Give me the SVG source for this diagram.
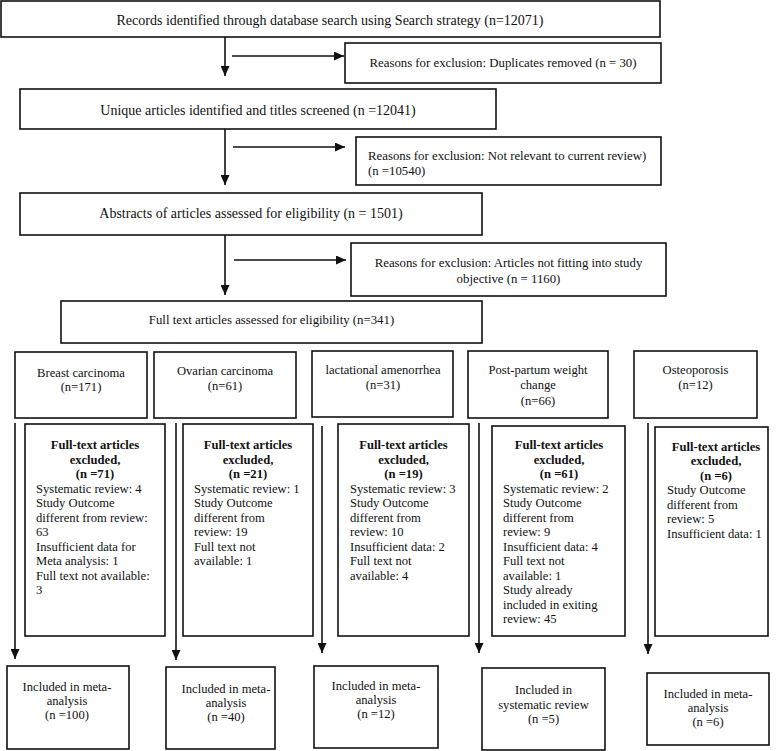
<svg xmlns="http://www.w3.org/2000/svg" width="778" height="751" viewBox="0 0 778 751">
<style>
.box{fill:#fff;stroke:#111;stroke-width:1.6}
.ln{fill:none;stroke:#111;stroke-width:1.6}
text{font-family:"Liberation Serif","Times New Roman",serif;fill:#111}
.m{text-anchor:middle}
.f14{font-size:14px}
.f13{font-size:12.8px}
.f12{font-size:12.6px}
.b{font-weight:bold}
</style>
<defs>
<marker id="ah" markerUnits="userSpaceOnUse" markerWidth="10" markerHeight="9" refX="10" refY="4.5" orient="auto">
<path d="M0,0 L10,4.5 L0,9 z" fill="#111"/>
</marker>
</defs>
<rect width="778" height="751" fill="#fff"/>

<g id="connectors">
<line class="ln" x1="225" y1="37" x2="225" y2="76" marker-end="url(#ah)"/>
<line class="ln" x1="232" y1="56" x2="344" y2="56" marker-end="url(#ah)"/>
<line class="ln" x1="225" y1="129" x2="225" y2="185" marker-end="url(#ah)"/>
<line class="ln" x1="233" y1="147" x2="345" y2="147" marker-end="url(#ah)"/>
<line class="ln" x1="225" y1="235" x2="225" y2="295" marker-end="url(#ah)"/>
<line class="ln" x1="234" y1="260" x2="346" y2="260" marker-end="url(#ah)"/>
<line class="ln" x1="15" y1="423" x2="15" y2="659" marker-end="url(#ah)"/>
<line class="ln" x1="176" y1="423" x2="176" y2="660" marker-end="url(#ah)"/>
<line class="ln" x1="322" y1="426" x2="322" y2="653" marker-end="url(#ah)"/>
<line class="ln" x1="479" y1="423" x2="479" y2="653" marker-end="url(#ah)"/>
<line class="ln" x1="648" y1="423" x2="648" y2="654" marker-end="url(#ah)"/>
</g>

<g id="records">
<rect class="box" x="1" y="1" width="659" height="36"/>
<text class="m f14" x="330" y="25">Records identified through database search using Search strategy (n=12071)</text>
</g>
<g id="duplicates">
<rect class="box" x="345" y="43" width="316" height="40"/>
<text class="m f13" x="503" y="67">Reasons for exclusion: Duplicates removed (n = 30)</text>
</g>
<g id="unique">
<rect class="box" x="20" y="89" width="476" height="40"/>
<text class="m f14" x="258" y="115">Unique articles identified and titles screened (n =12041)</text>
</g>
<g id="notrelevant">
<rect class="box" x="356" y="137" width="305" height="48"/>
<text class="f13" x="368" y="160">Reasons for exclusion: Not relevant to current review)</text>
<text class="f13" x="368" y="175">(n =10540)</text>
</g>
<g id="abstracts">
<rect class="box" x="20" y="193" width="462" height="42"/>
<text class="m f14" x="251" y="218">Abstracts of articles assessed for eligibility (n = 1501)</text>
</g>
<g id="notfitting">
<rect class="box" x="351" y="243" width="315" height="53"/>
<text class="m f13" x="508.5" y="267">Reasons for exclusion: Articles not fitting into study</text>
<text class="m f13" x="508.5" y="283">objective (n = 1160)</text>
</g>
<g id="fulltext">
<rect class="box" x="61" y="301" width="421" height="42"/>
<text class="m f13" x="271.5" y="324">Full text articles assessed for eligibility (n=341)</text>
</g>

<g id="breast">
<rect class="box" x="15" y="352" width="132" height="66"/>
<text class="m f12" x="81" y="376.5">Breast carcinoma</text>
<text class="m f12" x="81" y="391">(n=171)</text>
</g>
<g id="ovarian">
<rect class="box" x="154" y="352" width="142" height="66"/>
<text class="m f12" x="225" y="375">Ovarian carcinoma</text>
<text class="m f12" x="225" y="390">(n=61)</text>
</g>
<g id="lactational">
<rect class="box" x="312" y="351" width="141" height="66"/>
<text class="m f12" x="383" y="373.5">lactational amenorrhea</text>
<text class="m f12" x="383" y="389">(n=31)</text>
</g>
<g id="postpartum">
<rect class="box" x="468" y="351" width="140" height="67"/>
<text class="m f12" x="538" y="373.5">Post-partum weight</text>
<text class="m f12" x="538" y="389">change</text>
<text class="m f12" x="538" y="404.5">(n=66)</text>
</g>
<g id="osteoporosis">
<rect class="box" x="634" y="351" width="123" height="67"/>
<text class="m f12" x="695.5" y="373.5">Osteoporosis</text>
<text class="m f12" x="695.5" y="388.5">(n=12)</text>
</g>

<g id="excl-breast">
<rect class="box" x="25" y="424" width="140" height="212"/>
<text class="m f12 b" x="95" y="449">Full-text articles</text>
<text class="m f12 b" x="95" y="463.5">excluded,</text>
<text class="m f12 b" x="95" y="478">(n =71)</text>
<text class="f12" x="36" y="492.5">Systematic review: 4</text>
<text class="f12" x="36" y="507">Study Outcome</text>
<text class="f12" x="36" y="521.5">different from review:</text>
<text class="f12" x="36" y="536">63</text>
<text class="f12" x="36" y="550.5">Insufficient data for</text>
<text class="f12" x="36" y="565">Meta analysis: 1</text>
<text class="f12" x="36" y="579.5">Full text not available:</text>
<text class="f12" x="36" y="594">3</text>
</g>
<g id="excl-ovarian">
<rect class="box" x="183" y="424" width="130" height="212"/>
<text class="m f12 b" x="248" y="449">Full-text articles</text>
<text class="m f12 b" x="248" y="463.5">excluded,</text>
<text class="m f12 b" x="248" y="478">(n =21)</text>
<text class="f12" x="194" y="492.5">Systematic review: 1</text>
<text class="f12" x="194" y="507">Study Outcome</text>
<text class="f12" x="194" y="521.5">different from</text>
<text class="f12" x="194" y="536">review: 19</text>
<text class="f12" x="194" y="550.5">Full text not</text>
<text class="f12" x="194" y="565">available: 1</text>
</g>
<g id="excl-lactational">
<rect class="box" x="338" y="424" width="131" height="212"/>
<text class="m f12 b" x="403.5" y="449">Full-text articles</text>
<text class="m f12 b" x="403.5" y="463.5">excluded,</text>
<text class="m f12 b" x="403.5" y="478">(n =19)</text>
<text class="f12" x="350" y="492.5">Systematic review: 3</text>
<text class="f12" x="350" y="507">Study Outcome</text>
<text class="f12" x="350" y="521.5">different from</text>
<text class="f12" x="350" y="536">review: 10</text>
<text class="f12" x="350" y="550.5">Insufficient data: 2</text>
<text class="f12" x="350" y="565">Full text not</text>
<text class="f12" x="350" y="579.5">available: 4</text>
</g>
<g id="excl-postpartum">
<rect class="box" x="492" y="426" width="133" height="210"/>
<text class="m f12 b" x="559" y="449">Full-text articles</text>
<text class="m f12 b" x="559" y="463.5">excluded,</text>
<text class="m f12 b" x="559" y="478">(n =61)</text>
<text class="f12" x="503" y="492.5">Systematic review: 2</text>
<text class="f12" x="503" y="507">Study Outcome</text>
<text class="f12" x="503" y="521.5">different from</text>
<text class="f12" x="503" y="536">review: 9</text>
<text class="f12" x="503" y="550.5">Insufficient data: 4</text>
<text class="f12" x="503" y="565">Full text not</text>
<text class="f12" x="503" y="579.5">available: 1</text>
<text class="f12" x="503" y="594">Study already</text>
<text class="f12" x="503" y="608.5">included in exiting</text>
<text class="f12" x="503" y="623">review: 45</text>
</g>
<g id="excl-osteoporosis">
<rect class="box" x="655" y="427" width="113" height="209"/>
<text class="m f12 b" x="716" y="450.5">Full-text articles</text>
<text class="m f12 b" x="716" y="465">excluded,</text>
<text class="m f12 b" x="716" y="479.5">(n =6)</text>
<text class="f12" x="667" y="494">Study Outcome</text>
<text class="f12" x="667" y="508.5">different from</text>
<text class="f12" x="667" y="523">review: 5</text>
<text class="f12" x="667" y="537.5">Insufficient data: 1</text>
</g>

<g id="incl-breast">
<rect class="box" x="7" y="666" width="122" height="83"/>
<text class="m f12" x="67" y="690.5">Included in meta-</text>
<text class="m f12" x="67" y="704.5">analysis</text>
<text class="m f12" x="67" y="718.5">(n =100)</text>
</g>
<g id="incl-ovarian">
<rect class="box" x="166" y="667" width="109" height="82"/>
<text class="m f12" x="226" y="692.5">Included in meta-</text>
<text class="m f12" x="226" y="706.5">analysis</text>
<text class="m f12" x="226" y="720.5">(n =40)</text>
</g>
<g id="incl-lactational">
<rect class="box" x="314" y="666" width="124" height="82"/>
<text class="m f12" x="376" y="689.5">Included in meta-</text>
<text class="m f12" x="376" y="703.5">analysis</text>
<text class="m f12" x="376" y="717.5">(n =12)</text>
</g>
<g id="incl-postpartum">
<rect class="box" x="482" y="668" width="123" height="82"/>
<text class="m f12" x="543.5" y="694">Included in</text>
<text class="m f12" x="543.5" y="708.5">systematic review</text>
<text class="m f12" x="543.5" y="723">(n =5)</text>
</g>
<g id="incl-osteoporosis">
<rect class="box" x="647" y="673" width="122" height="72"/>
<text class="m f12" x="708" y="697.5">Included in meta-</text>
<text class="m f12" x="708" y="711.5">analysis</text>
<text class="m f12" x="708" y="725.5">(n =6)</text>
</g>
</svg>
